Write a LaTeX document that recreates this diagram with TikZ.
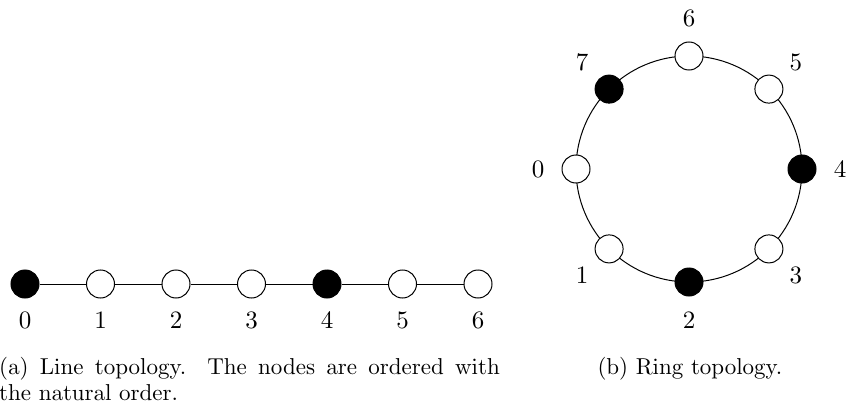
\documentclass[tikz,border=0pt]{standalone}
\usetikzlibrary{calc}
\font\capfnt=cmr10 at 23pt
\font\labfnt=cmr10 at 25pt
\begin{document}
\begin{tikzpicture}[x=1pt,y=-1pt,
  nd/.style={circle,draw,line width=1pt,minimum size=28pt,inner sep=0pt,fill=white},
  full/.style={nd,fill=black},
  lab/.style={font=\labfnt,inner sep=0pt},
  edge/.style={line width=1pt},
  capt/.style={font={\capfnt\baselineskip=26pt},inner sep=0pt}]
\useasboundingbox (0,0) rectangle (846,412);
% line topology
\foreach \i/\s in {0/full,1/nd,2/nd,3/nd,4/full,5/nd,6/nd}{
  \node[\s] (l\i) at ({25+75.5*\i},284) {};
  \node[lab] (ll\i) at ({25+75.5*\i},320) {\i};
}
\draw[edge] (l0)--(l1) (l1)--(l2) (l2)--(l3) (l3)--(l4) (l4)--(l5) (l5)--(l6);
\node[capt,anchor=north west,text width=501pt,align=justify] (capa) at (-1,357)
  {(a)~Line topology. The nodes are ordered with\linebreak the natural order.};
% ring topology
\coordinate (rc) at (689,169);
\draw[edge] (rc) circle[radius=113pt];
\foreach \i/\s in {0/nd,1/nd,2/full,3/nd,4/full,5/nd,6/nd,7/full}{
  \node[\s] (r\i) at ($(rc)+({180+45*\i}:113pt)$) {};
  \node[lab] (rl\i) at ($(rc)+({180+45*\i}:151pt)$) {\i};
}
\node[capt,anchor=base] (capb) at (690,374) {(b)~Ring topology.};
\end{tikzpicture}
\end{document}
